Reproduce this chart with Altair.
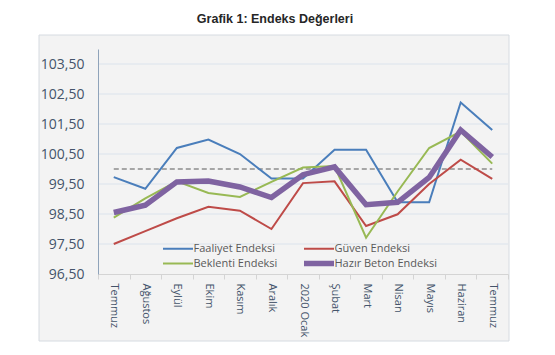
import json
import altair as alt
import pandas as pd

# ---- data ----
months = ["Temmuz", "Ağustos", "Eylül", "Ekim", "Kasım", "Aralık", "2020 Ocak",
          "Şubat", "Mart", "Nisan", "Mayıs", "Haziran", "Temmuz"]
faaliyet = [99.73, 99.34, 100.70, 100.98, 100.50, 99.68, 99.68, 100.64, 100.64, 98.89, 98.89, 102.22, 101.30]
guven = [97.50, 97.93, 98.36, 98.74, 98.61, 98.00, 99.53, 99.59, 98.10, 98.49, 99.50, 100.31, 99.67]
beklenti = [98.38, 99.02, 99.59, 99.20, 99.07, 99.57, 100.05, 100.10, 97.71, 99.25, 100.70, 101.25, 100.18]
hazir_beton = [98.55, 98.79, 99.57, 99.60, 99.40, 99.05, 99.81, 100.07, 98.81, 98.89, 99.72, 101.30, 100.40]
reference_level = [100.0] * len(months)
series_names = ["Faaliyet Endeksi", "Güven Endeksi", "Beklenti Endeksi", "Hazır Beton Endeksi"]
series_colors = ["#4a7ebb", "#be4b48", "#98b954", "#7f63a1"]
series_widths = [2, 2, 2, 5.5]
y_ticks = [96.5, 97.5, 98.5, 99.5, 100.5, 101.5, 102.5, 103.5]
title_text = "Grafik 1: Endeks Değerleri"

rows = []
for name, vals in zip(series_names, [faaliyet, guven, beklenti, hazir_beton]):
    for i, v in enumerate(vals):
        rows.append({"i": i, "seri": name, "deger": v})
df = pd.DataFrame(rows)
df_ref = pd.DataFrame({"i": list(range(len(months))), "deger": reference_level})
df_grid = pd.DataFrame({"deger": y_ticks[1:]})
df_bg = pd.DataFrame({"k": [0]})

FONT = "Open Sans"
label_expr = json.dumps(months) + "[datum.value]"

x_enc = alt.X("i:O", bandPosition=0.5,
              scale=alt.Scale(type="band", paddingInner=0, paddingOuter=0),
              axis=alt.Axis(title=None, labelAngle=90, labelExpr=label_expr,
                            tickBand="extent", ticks=True, tickSize=5,
                            tickColor="#d4d4d4", domainColor="#d4d4d4",
                            labelFontSize=11, labelColor="#44546a", labelFont=FONT,
                            labelPadding=4, grid=False, zindex=1))
y_scale = alt.Scale(domain=[96.5, 104], nice=False, zero=False)
y_enc = alt.Y("deger:Q", scale=y_scale,
              axis=alt.Axis(title=None, values=y_ticks,
                            labelExpr="replace(format(datum.value, '.2f'), '.', ',')",
                            grid=False, ticks=False, domainColor="#8fa3ba",
                            labelFontSize=14, labelColor="#44546a", labelFont=FONT,
                            labelPadding=14, zindex=1))

bg = alt.Chart(df_bg).mark_rect(fill="#f3f3f3", stroke="#d6dbe1", strokeWidth=1).encode(
    x=alt.value(-59), x2=alt.value(411), y=alt.value(-14), y2=alt.value(292)
)

grid = alt.Chart(df_grid).mark_rule(color="#dbe3ec", strokeWidth=1).encode(y=y_enc)

ref = alt.Chart(df_ref).mark_line(color="#a6a6a6", strokeWidth=2, strokeDash=[5, 3]).encode(
    x=x_enc, y=y_enc
)

legend = alt.Legend(title=None, orient="none", legendX=65, legendY=194, columns=2,
                    direction="horizontal",
                    symbolType="M-7.5,0H7.5", symbolSize=16, symbolOffset=9.5,
                    labelFontSize=11, labelColor="#595959", labelFont=FONT,
                    labelOffset=10, columnPadding=15, rowPadding=-2)

lines = alt.Chart(df).mark_line().encode(
    x=x_enc,
    y=y_enc,
    color=alt.Color("seri:N", scale=alt.Scale(domain=series_names, range=series_colors),
                    legend=legend),
    strokeWidth=alt.StrokeWidth("seri:N",
                                scale=alt.Scale(type="ordinal", domain=series_names, range=series_widths),
                                legend=legend),
    order=alt.Order("i:Q"),
)

chart = alt.layer(bg, grid, ref, lines).resolve_scale(x="shared", y="shared").properties(
    width=410, height=225,
    autosize=alt.AutoSizeParams(type="none"),
    padding={"left": 90, "top": 41, "right": 39, "bottom": 69},
    title=alt.TitleParams(title_text, font="Liberation Sans Narrow, Arial Narrow, Liberation Sans",
                          fontSize=12.5, fontWeight="bold", color="#262626",
                          anchor="middle", dx=-28, offset=9),
).configure_view(stroke=None)

chart.save("out.html", embed_options={"renderer": "svg", "actions": False})
